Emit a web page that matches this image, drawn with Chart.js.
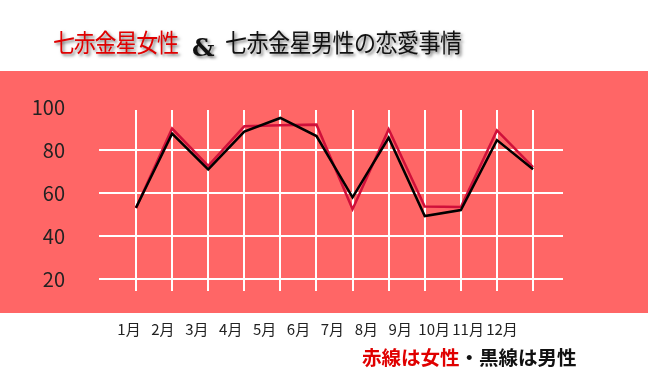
<!DOCTYPE html>
<html lang="ja">
<head>
<meta charset="utf-8">
<script src="https://cdn.jsdelivr.net/npm/chart.js@4/dist/chart.umd.min.js"></script>
<style>
  html, body { margin: 0; padding: 0; background: #fff; }
  #wrap { position: relative; width: 648px; height: 388px; overflow: hidden; }
  #chart { position: absolute; left: 0; top: 0; }
  .t { position: absolute; white-space: nowrap; font-family: "Noto Sans CJK JP", sans-serif; line-height: 1; }
  .title { font-size: 22px; text-shadow: 2px 2px 3px #777; transform-origin: left top; transform: scaleY(1.12); }
  .amp { font-family: "DejaVu Serif", serif; font-size: 25px; font-weight: bold; text-shadow: 2px 2px 3px #777; }
  .note { font-size: 19.5px; font-weight: bold; }
</style>
</head>
<body>
<div id="wrap">
  <canvas id="chart" width="648" height="388"></canvas>
  <div class="t title" style="left:53px; top:28px; color:#e00000; letter-spacing:-1.2px;">七赤金星女性</div>
  <div class="t amp" style="left:192px; top:35px; color:#111;">&amp;</div>
  <div class="t title" style="left:225px; top:28px; color:#111; letter-spacing:-0.5px;">七赤金星男性の恋愛事情</div>
  <div class="t note" style="left:362px; top:347px;"><span style="color:#e00000;">赤線は女性</span><span style="color:#111;">・黒線は男性</span></div>
</div>
<script>
'use strict';

let canvasElem = document.getElementById('chart');

// months and the two lines (red = women, black = men)
let months = ['1月', '2月', '3月', '4月', '5月', '6月', '7月', '8月', '9月', '10月', '11月', '12月'];
let womenVals = [53, 90, 72.6, 91, 91.5, 91.8, 52.5, 89.7, 53.8, 53.5, 89.1, 72];
let menVals = [53.2, 87.6, 71, 88.6, 94.9, 86.5, 58, 85.7, 49.3, 52.1, 84.6, 71.1];
let yTicks = [20, 40, 60, 80, 100];

function toPoints(vals) {
  return vals.map((v, i) => ({ x: i + 1, y: v }));
}

function monthTicks(scale) {
  scale.ticks = months.map((m, i) => ({ value: i + 1 }));
}

// pink band behind the plot
let bandPlugin = {
  id: 'band',
  beforeDraw(chart) {
    let ctx = chart.ctx;
    ctx.save();
    ctx.fillStyle = '#ff6666';
    ctx.fillRect(0, 71, chart.width, 242);
    ctx.restore();
  }
};

function renderChart() {
  let chartObj = {
    type: 'line',
    data: {
      datasets: [{
        label: '女性',
        data: toPoints(womenVals),
        borderColor: '#d0103a',
        borderWidth: 2.5,
        pointRadius: 0,
        tension: 0,
        order: 1
      },
      {
        label: '男性',
        data: toPoints(menVals),
        borderColor: '#000',
        borderWidth: 2.5,
        pointRadius: 0,
        tension: 0,
        order: 0
      }]
    },
    options: {
      responsive: false,
      animation: false,
      layout: { padding: { left: 31, right: 85, top: 110, bottom: 0 } },
      plugins: {
        legend: { display: false },
        tooltip: { enabled: false }
      },
      scales: {
        x: {
          type: 'linear',
          min: -0.025,
          max: 12.83,
          afterBuildTicks: monthTicks,
          afterFit(scale) { scale.height = 0; },
          border: { display: false },
          grid: { color: '#fff', lineWidth: 2, drawTicks: false },
          ticks: { display: false }
        },
        x2: {
          type: 'linear',
          position: 'bottom',
          min: 0.115,
          max: 13.8,
          afterBuildTicks: monthTicks,
          afterFit(scale) { scale.height = 97; },
          border: { display: false },
          grid: { display: false },
          ticks: {
            autoSkip: false,
            maxRotation: 0,
            padding: 21,
            color: '#222',
            font: { family: '"Noto Sans CJK JP", sans-serif', size: 15 },
            callback: (v) => months[v - 1]
          }
        },
        y: {
          min: 14.5,
          max: 98.6,
          bounds: 'data',
          afterBuildTicks(scale) {
            scale.ticks = yTicks.map(v => ({ value: v }));
          },
          afterFit(scale) { scale.width = 68; },
          border: { display: false },
          grid: {
            color: (c) => (c.tick && c.tick.value === 100 ? 'rgba(0,0,0,0)' : '#fff'),
            lineWidth: 2,
            drawTicks: false
          },
          ticks: {
            padding: 34,
            color: '#222',
            font: { family: '"Noto Sans CJK JP", sans-serif', size: 20 }
          }
        }
      }
    },
    plugins: [bandPlugin]
  };

  new Chart(canvasElem, chartObj);
}

renderChart();
</script>
</body>
</html>
